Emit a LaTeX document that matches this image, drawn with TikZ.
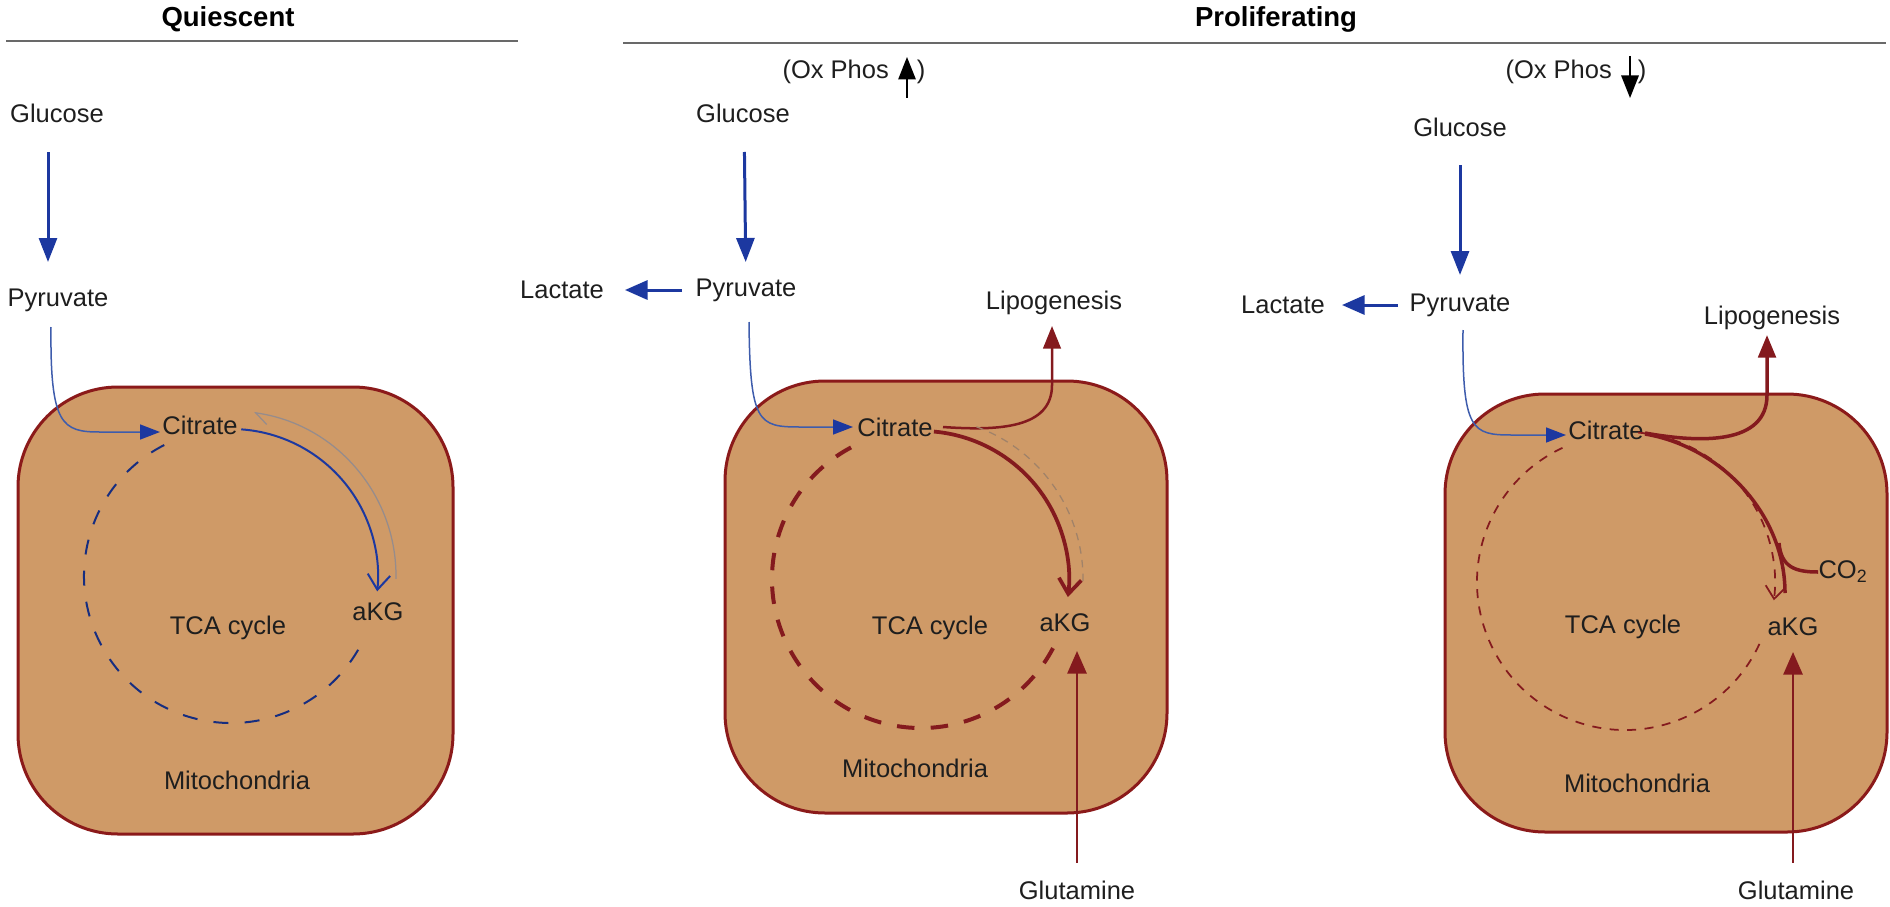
\documentclass[tikz,border=0pt]{standalone}
\usepackage{fontspec}
\setmainfont{Liberation Sans}
\usepackage{graphicx}
\usetikzlibrary{arrows.meta}
\definecolor{boxfill}{RGB}{207,154,103}
\definecolor{boxline}{RGB}{139,26,26}
\definecolor{dblue}{RGB}{28,56,160}
\definecolor{lblue}{RGB}{62,92,172}
\definecolor{dred}{RGB}{132,26,30}
\definecolor{txt}{RGB}{30,30,30}
\definecolor{rulec}{RGB}{105,105,105}
\definecolor{pale}{RGB}{150,140,140}
\definecolor{paled}{RGB}{160,130,105}
\begin{document}
\begin{tikzpicture}[x=0.4pt,y=-0.4pt,
  lbl/.style={inner sep=0pt, text=txt, font=\fontsize{10.2}{12}\selectfont},
  ttl/.style={inner sep=0pt, text=black, font=\fontsize{11}{13}\selectfont\bfseries},
  mito/.style={draw=boxline, fill=boxfill, line width=1.2pt, rounded corners=40pt},
  rulebar/.style={draw=rulec, line width=1.1pt},
  glyarrow/.style={draw=dblue, line width=1.2pt, -{Triangle[length=9.6pt,width=7.2pt]}},
  lacarrow/.style={draw=dblue, line width=1.2pt, -{Triangle[length=9pt,width=7.6pt]}},
  pyrcurve/.style={draw=lblue, line width=0.6pt, -{Triangle[length=8pt,width=6pt,color=dblue]}},
  oxarrow/.style={draw=black, line width=0.6pt, -{Triangle[length=9pt,width=7pt]}},
  redarrow/.style={draw=dred, line width=1pt, -{Triangle[length=9pt,width=7.6pt]}},
  lipoarrow/.style={draw=dred, line width=1pt, -{Triangle[length=9pt,width=7pt]}},
  chev/.style={-{Straight Barb[length=6pt,width=9pt]}},
]
\useasboundingbox (0,0) rectangle (1890,906);

% ---------- titles ----------
\node[ttl] (t1) at (228,19) {Quiescent};
\node[ttl] (t2) at (1276,19) {Proliferating};
\coordinate (r1a) at (6,41);  \coordinate (r1b) at (518,41);
\coordinate (r2a) at (623,43); \coordinate (r2b) at (1886,43);
\draw[rulebar] (r1a) -- (r1b);
\draw[rulebar] (r2a) -- (r2b);

% ---------- mitochondria boxes ----------
\draw[mito] (18,387) rectangle (453,834);
\draw[mito] (725,381) rectangle (1167,813);
\draw[mito] (1445,394) rectangle (1887,832);

% ================= Panel 1 =================
\node[lbl] (glu1) at (57,113) {Glucose};
\node[lbl] (pyr1) at (58,300) {Pyruvate};
\node[lbl] (cit1) at (200,425) {Citrate};
\node[lbl] (akg1) at (378,612) {aKG};
\node[lbl] (tca1) at (228,628) {TCA cycle};
\node[lbl] (mit1) at (237,780) {Mitochondria};
\coordinate (c1) at (231,576);

\draw[glyarrow, shorten <=15.6pt, shorten >=15.2pt] ([xshift=-3.6pt]glu1.center) -- ([xshift=-4pt]pyr1.center);
\coordinate (p1s) at (51,327);
\coordinate (p1e) at (160,432);
\draw[pyrcurve] (p1s) .. controls (50,425) and (62,432) .. (100,432) -- (p1e);
% TCA cycle
\draw[dblue!80!black, line width=0.8pt, dash pattern=on 6pt off 6.5pt]
  (c1) ++(243:147) arc[start angle=243, end angle=24, radius=147];
\draw[dblue, line width=0.8pt, chev]
  (c1) ++(-86:147) arc[start angle=-86, end angle=6, radius=147];
\draw[pale, line width=0.5pt, {Straight Barb[harpoon,length=5pt,width=8pt]}-]
  (c1) ++(-82:165) arc[start angle=-82, end angle=1, radius=165];

% ================= Panel 2 =================
\node[lbl, anchor=west] (ox2) at (782,72) {(Ox Phos};
\node[lbl] (ox2r) at (921,72) {)};
\coordinate (ox2b) at (907,98); \coordinate (ox2t) at (907,57);
\draw[oxarrow] (ox2b) -- (ox2t);

\node[lbl] (glu2) at (743,113) {Glucose};
\node[lbl] (pyr2) at (746,290) {Pyruvate};
\node[lbl] (lac2) at (562,290) {Lactate};
\node[lbl] (cit2) at (895,427) {Citrate};
\node[lbl] (lip2) at (1054,303) {Lipogenesis};
\node[lbl] (akg2) at (1065,623) {aKG};
\node[lbl] (tca2) at (930,628) {TCA cycle};
\node[lbl] (mit2) at (915,768) {Mitochondria};
\node[lbl] (glut2) at (1077,890) {Glutamine};
\coordinate (c2) at (921,579);

\draw[glyarrow, shorten <=15.6pt, shorten >=11.2pt] ([xshift=0.4pt]glu2.center) -- (pyr2.center);
\draw[lacarrow, shorten <=25.6pt, shorten >=25.2pt] (pyr2.center) -- (lac2.center);
\coordinate (p2s) at (749,322);
\coordinate (p2e) at (853,427);
\draw[pyrcurve] (p2s) .. controls (750,423) and (758,427) .. (800,427) -- (p2e);
\coordinate (l2s) at (943,427);
\coordinate (l2e) at (1052,326);
\draw[lipoarrow] (l2s) .. controls (1000,431) and (1052,428) .. (1052,385) -- (l2e);
% TCA
\draw[dred, line width=1.6pt, dash pattern=on 7pt off 6.5pt]
  (c2) ++(242:149) arc[start angle=242, end angle=25, radius=149];
\draw[paled, line width=0.5pt, dash pattern=on 3pt off 2.5pt]
  (c2) ++(-70:162) arc[start angle=-70, end angle=1, radius=162];
\draw[dred, line width=1.5pt, chev]
  (c2) ++(-85:148) arc[start angle=-85, end angle=7, radius=148];
\coordinate (g2t) at (1077,651);
\draw[redarrow, shorten <=11pt] (glut2.center) -- (g2t);

% ================= Panel 3 =================
\node[lbl, anchor=west] (ox3) at (1505,72) {(Ox Phos};
\node[lbl] (ox3r) at (1642,72) {)};
\coordinate (ox3t) at (1630,56); \coordinate (ox3b) at (1630,98);
\draw[oxarrow] (ox3t) -- (ox3b);

\node[lbl] (glu3) at (1460,127) {Glucose};
\node[lbl] (pyr3) at (1460,305) {Pyruvate};
\node[lbl] (lac3) at (1283,305) {Lactate};
\node[lbl] (cit3) at (1606,430) {Citrate};
\node[lbl] (lip3) at (1772,318) {Lipogenesis};
\node[lbl] (akg3) at (1793,627) {aKG};
\node[lbl] (tca3) at (1623,627) {TCA cycle};
\node[lbl] (mit3) at (1637,783) {Mitochondria};
\node[lbl] (glut3) at (1796,890) {Glutamine};
\node[lbl, anchor=west] (co2) at (1818,572) {CO\textsubscript{2}};
\coordinate (c3) at (1625,582);

\draw[glyarrow, shorten <=15.2pt, shorten >=12pt] (glu3.center) -- (pyr3.center);
\draw[lacarrow, shorten <=24.8pt, shorten >=23.6pt] (pyr3.center) -- (lac3.center);
\coordinate (p3s) at (1463,330);
\coordinate (p3e) at (1566,435);
\draw[pyrcurve] (p3s) .. controls (1462,431) and (1472,435) .. (1512,435) -- (p3e);
% TCA dashed
\draw[dred, line width=0.7pt, dash pattern=on 3.6pt off 3.4pt]
  (c3) ++(245:148) arc[start angle=245, end angle=23.5, radius=148];
\draw[dred, line width=0.7pt, dash pattern=on 3.6pt off 3.4pt, -{Straight Barb[length=5pt,width=8pt]}]
  (c3) ++(-85:150) arc[start angle=-85, end angle=7, radius=150];
% thick path citrate -> aKG with CO2 branch
\coordinate (k3s) at (1645,434);
\coordinate (k3e) at (1785,593);
\draw[dred, line width=1.4pt] (k3s) .. controls (1722,447) and (1785,515) .. (k3e);
\coordinate (co2s) at (1779,543);
\draw[dred, line width=1.4pt] (co2s) .. controls (1781,567) and (1795,572) .. (co2.west);
\coordinate (l3s) at (1645,433);
\coordinate (l3e) at (1767,335);
\draw[lipoarrow, line width=1.4pt] (l3s) .. controls (1700,443) and (1767,445) .. (1767,395) -- (l3e);
\coordinate (g3t) at (1793,652);
\draw[redarrow, shorten <=11pt] (glut3.center -| g3t) -- (g3t);
\end{tikzpicture}
\end{document}
